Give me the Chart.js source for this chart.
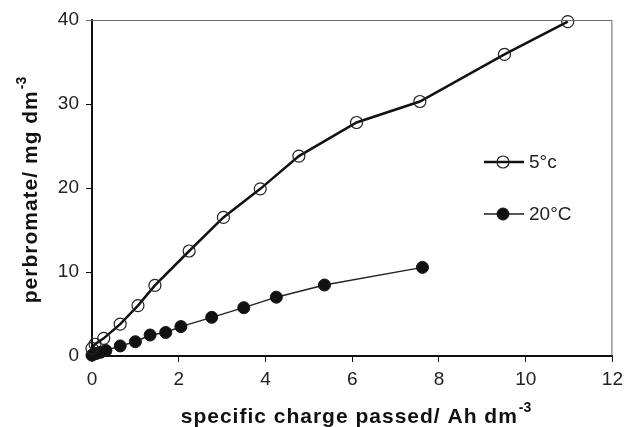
<!DOCTYPE html>
<html>
<head>
<meta charset="utf-8">
<script src="https://cdn.jsdelivr.net/npm/chart.js@4.4.0/dist/chart.umd.min.js"></script>
<style>
  html, body { margin: 0; padding: 0; background: #fff; }
  #wrap { width: 629px; height: 427px; }
</style>
</head>
<body>
<div id="wrap"><canvas id="grafico" width="629" height="427"></canvas></div>
<script>
// Datos
const carga5 = [0, 0.07, 0.27, 0.65, 1.06, 1.45, 2.24, 3.03, 3.88, 4.77, 6.1, 7.56, 9.51, 10.97];
const perbromato5 = [0.9, 1.4, 2.1, 3.8, 6.0, 8.4, 12.5, 16.5, 19.9, 23.8, 27.8, 30.3, 35.9, 39.8];
const carga20 = [0, 0.1, 0.2, 0.32, 0.65, 1.0, 1.34, 1.7, 2.05, 2.76, 3.5, 4.25, 5.36, 7.62];
const perbromato20 = [0.1, 0.3, 0.45, 0.65, 1.2, 1.7, 2.5, 2.8, 3.5, 4.6, 5.75, 7.0, 8.45, 10.55];
const etiquetas = ['5°c', '20°C'];
const ticksX = [0, 2, 4, 6, 8, 10, 12];
const ticksY = [0, 10, 20, 30, 40];

const fuente = "'Liberation Sans', Arial, sans-serif";

function puntos(xs, ys) {
    return xs.map((x, i) => ({ x: x, y: ys[i] }));
}

// Marco, títulos con superíndice y leyenda
const extras = {
    id: 'extras',
    afterDraw(chart) {
        const ctx = chart.ctx;
        const a = chart.chartArea;
        ctx.save();
        // marco superior y derecho
        ctx.strokeStyle = '#666';
        ctx.lineWidth = 1;
        ctx.beginPath();
        ctx.moveTo(a.left - 6, a.top + 0.5);
        ctx.lineTo(a.right - 0.5, a.top + 0.5);
        ctx.lineTo(a.right - 0.5, a.bottom);
        ctx.stroke();

        // títulos
        ctx.fillStyle = '#111';
        function titulo(txt, sup, cx, base, rot) {
            ctx.save();
            ctx.font = 'bold 21px ' + fuente;
            ctx.letterSpacing = '1px';
            const w1 = ctx.measureText(txt).width;
            ctx.font = 'bold 14px ' + fuente;
            ctx.letterSpacing = '0px';
            const w2 = ctx.measureText(sup).width;
            const total = w1 + 1 + w2;
            if (rot) {
                ctx.translate(base, cx);
                ctx.rotate(-Math.PI / 2);
            } else {
                ctx.translate(cx, base);
            }
            ctx.textAlign = 'left';
            ctx.textBaseline = 'alphabetic';
            ctx.font = 'bold 21px ' + fuente;
            ctx.letterSpacing = '1px';
            ctx.fillText(txt, -total / 2, 0);
            ctx.font = 'bold 14px ' + fuente;
            ctx.letterSpacing = '0px';
            ctx.fillText(sup, -total / 2 + w1 + 1, -11);
            ctx.restore();
        }
        titulo('specific charge passed/ Ah dm', '-3', 356, 423, false);
        titulo('perbromate/ mg dm', '-3', 190, 37, true);

        // leyenda
        const filas = [{ y: 162 }, { y: 214 }];
        chart.data.datasets.forEach((ds, i) => {
            const y = filas[i].y;
            ctx.strokeStyle = ds.borderColor;
            ctx.lineWidth = ds.borderWidth;
            ctx.beginPath();
            ctx.moveTo(484, y);
            ctx.lineTo(524, y);
            ctx.stroke();
            ctx.beginPath();
            ctx.arc(503, y, ds.pointRadius, 0, Math.PI * 2);
            ctx.fillStyle = ds.pointBackgroundColor;
            ctx.fill();
            ctx.strokeStyle = ds.pointBorderColor;
            ctx.lineWidth = ds.pointBorderWidth;
            ctx.stroke();
            ctx.fillStyle = '#222';
            ctx.font = '19px ' + fuente;
            ctx.textBaseline = 'middle';
            ctx.textAlign = 'left';
            ctx.fillText(ds.label, 529, y + 1);
        });
        ctx.restore();
    }
};

document.addEventListener('DOMContentLoaded', function() {
    const ctx = document.getElementById('grafico').getContext('2d');
    new Chart(ctx, {
        type: 'scatter',
        data: {
            datasets: [{
                label: etiquetas[0],
                data: puntos(carga5, perbromato5),
                showLine: true,
                borderColor: '#111',
                borderWidth: 2.5,
                pointRadius: 6,
                pointHoverRadius: 6,
                pointBackgroundColor: 'rgba(255,255,255,0)',
                pointBorderColor: '#222',
                pointBorderWidth: 1.2,
                clip: false
            }, {
                label: etiquetas[1],
                data: puntos(carga20, perbromato20),
                showLine: true,
                borderColor: '#222',
                borderWidth: 1.4,
                pointRadius: 6,
                pointHoverRadius: 6,
                pointBackgroundColor: '#111',
                pointBorderColor: '#111',
                pointBorderWidth: 1,
                clip: false
            }]
        },
        options: {
            responsive: false,
            animation: false,
            events: [],
            layout: { padding: { top: 20, right: 11, left: 0, bottom: 0 } },
            plugins: {
                legend: { display: false },
                tooltip: { enabled: false }
            },
            scales: {
                x: {
                    type: 'linear',
                    min: 0,
                    max: 12,
                    afterBuildTicks: s => { s.ticks = ticksX.map(v => ({ value: v })); },
                    afterFit: s => { s.height = 71; },
                    border: { color: '#111', width: 2 },
                    grid: { drawOnChartArea: false, drawTicks: true, tickLength: 6, color: '#111' },
                    ticks: { color: '#222', font: { family: fuente, size: 19 }, padding: 6, maxRotation: 0 }
                },
                y: {
                    type: 'linear',
                    min: 0,
                    max: 40,
                    afterBuildTicks: s => { s.ticks = ticksY.map(v => ({ value: v })); },
                    afterFit: s => { s.width = 92; },
                    border: { color: '#111', width: 2 },
                    grid: { drawOnChartArea: false, drawTicks: true, tickLength: 6, color: '#111' },
                    ticks: { color: '#222', font: { family: fuente, size: 19 }, padding: 7 }
                }
            }
        },
        plugins: [extras]
    });
});
</script>
</body>
</html>
